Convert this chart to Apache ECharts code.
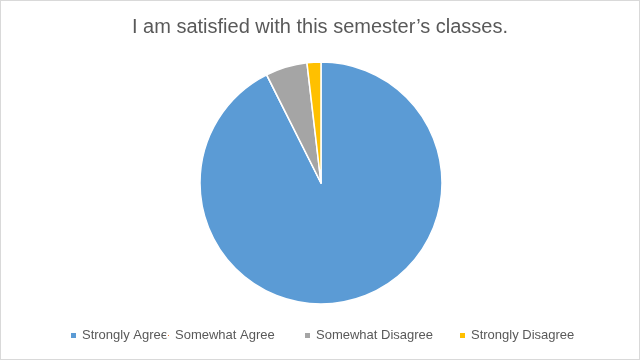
<!DOCTYPE html>
<html><head><meta charset="utf-8">
<script src="https://cdn.jsdelivr.net/npm/echarts@6/dist/echarts.min.js"></script>
<style>html,body{margin:0;padding:0;background:#fff}#c{width:640px;height:360px;box-sizing:border-box;border:1px solid #d9d9d9}</style>
</head><body><div id="c"></div>
<script>
const categories = ['Strongly Agree', 'Somewhat Agree', 'Somewhat Disagree', 'Strongly Disagree'];
const responses = [50, 0, 3, 1];
const colors = ['#5B9BD5', '#ED7D31', '#A5A5A5', '#FFC000'];
const titleText = 'I am satisfied with this semester\u2019s classes.';

const chart = echarts.init(document.getElementById('c'), null, {renderer: 'canvas'});
const legendBase = {
  bottom: 12, itemWidth: 7, itemHeight: 7, icon: 'rect',
  textStyle: {color: '#595959', fontSize: 13, fontFamily: 'Liberation Sans'}
};
chart.setOption({
  animation: false,
  color: colors,
  title: {text: titleText, left: 'center', top: 11,
    textStyle: {color: '#595959', fontSize: 20, fontWeight: 'normal', fontFamily: 'Liberation Sans'}},
  legend: [
    Object.assign({}, legendBase, {left: 63, data: [categories[0]]}),
    Object.assign({}, legendBase, {left: 160, data: [categories[1]], itemWidth: 3, itemHeight: 3, itemGap: 5}),
    Object.assign({}, legendBase, {left: 297, data: [categories[2]]}),
    Object.assign({}, legendBase, {left: 452, data: [categories[3]]})
  ],
  series: [{
    type: 'pie', center: [320, 182], radius: 121, startAngle: 90, clockwise: true,
    label: {show: false}, labelLine: {show: false},
    itemStyle: {borderColor: '#fff', borderWidth: 1.5},
    emphasis: {disabled: true},
    data: categories.map((c, i) => ({name: c, value: responses[i]}))
  }]
});
</script></body></html>
